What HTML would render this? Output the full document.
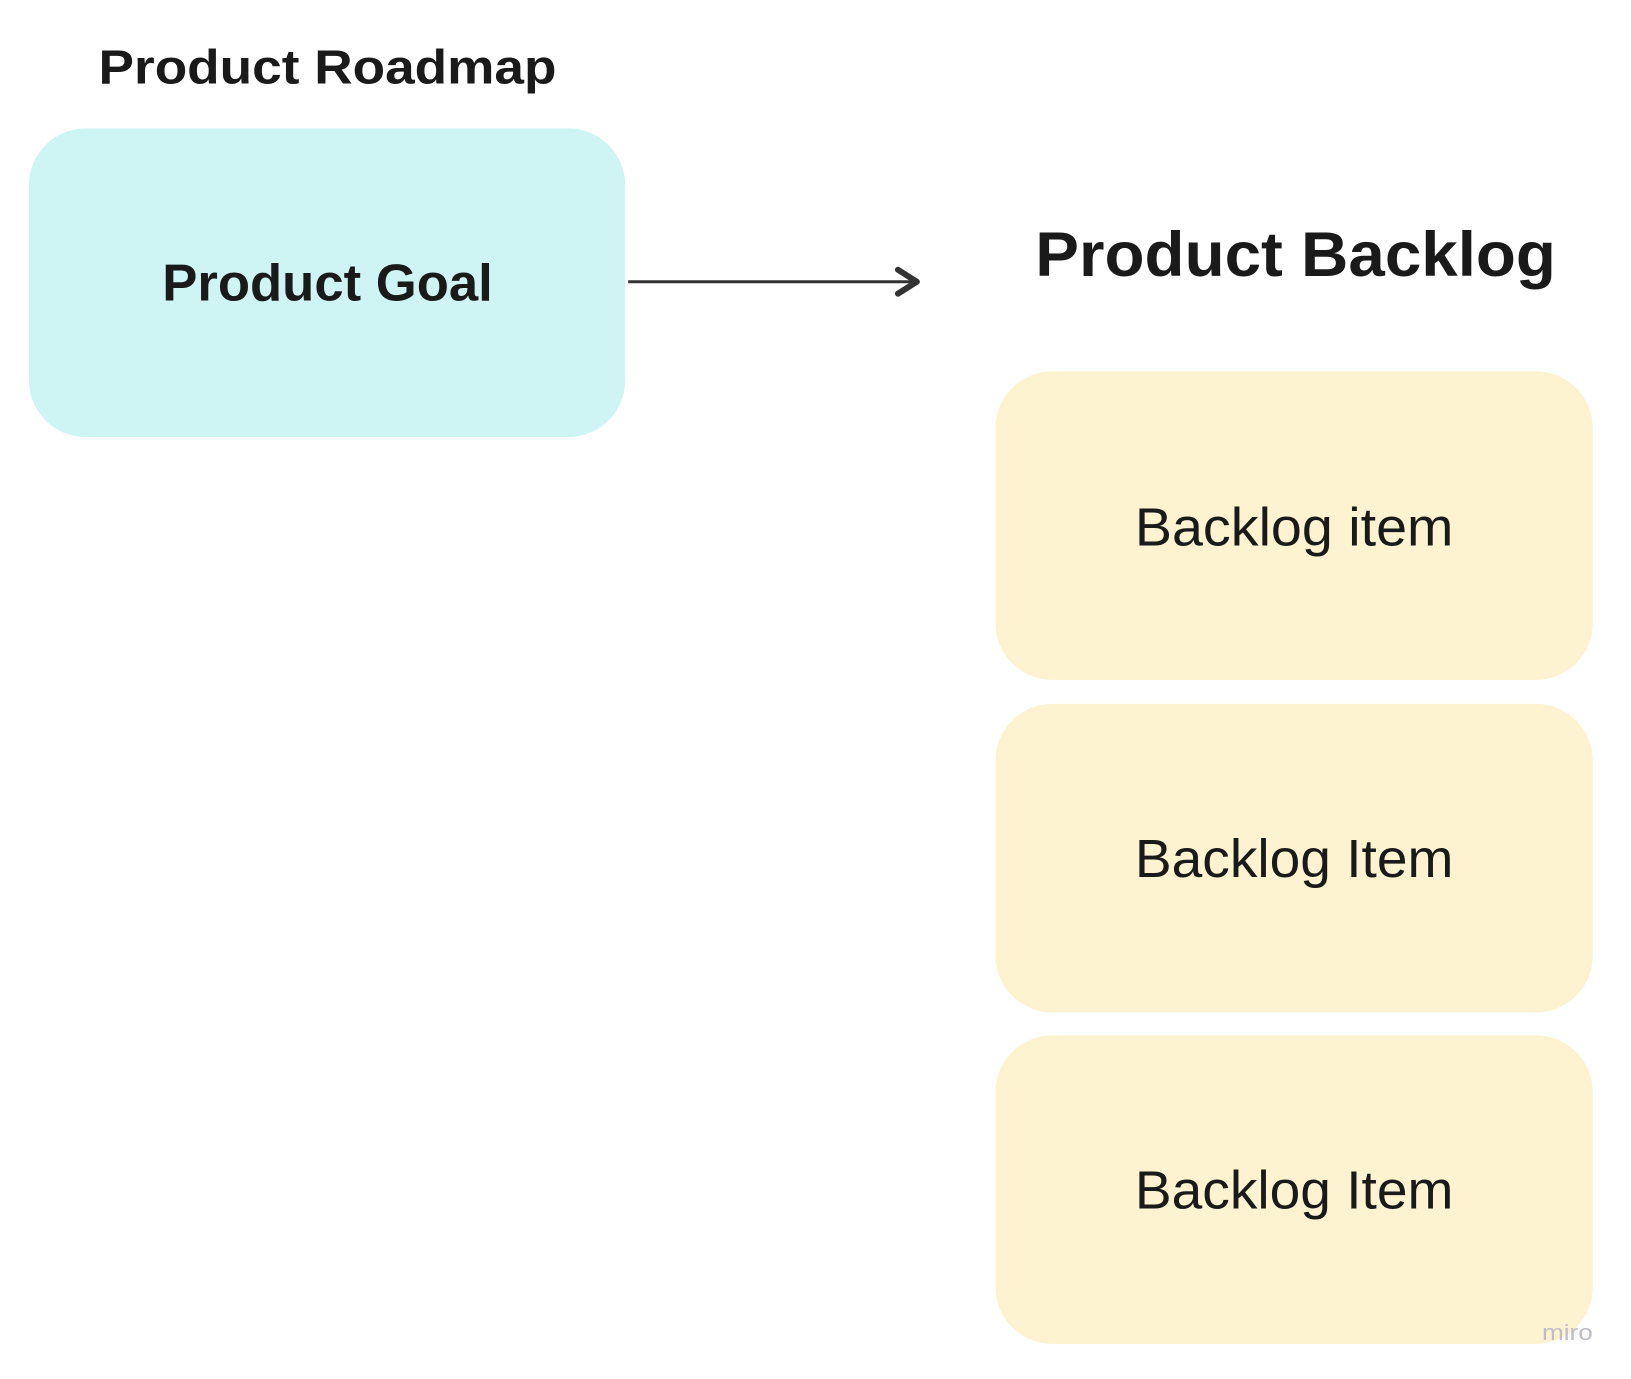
<!DOCTYPE html>
<html><head><meta charset="utf-8"><style>html,body{margin:0;padding:0;background:#fff}svg{display:block}</style></head>
<body>
<svg width="1631" height="1379" viewBox="0 0 1631 1379" xmlns="http://www.w3.org/2000/svg" font-family="Liberation Sans, sans-serif">
<rect width="1631" height="1379" fill="#fff"/>
<g transform="scale(0.9955)">
<text x="99" y="84" font-size="48" font-weight="bold" fill="#1a1a1a" textLength="460" lengthAdjust="spacingAndGlyphs">Product Roadmap</text>
<rect x="29" y="129" width="599" height="310" rx="57" fill="#cff4f4"/>
<text x="329" y="302" font-size="52" font-weight="bold" fill="#1a1a1a" text-anchor="middle" textLength="332" lengthAdjust="spacingAndGlyphs">Product Goal</text>
<line x1="631" y1="283" x2="918" y2="283" stroke="#333" stroke-width="3"/>
<path d="M902 271 L921 283 L902 295" fill="none" stroke="#333" stroke-width="6" stroke-linejoin="round" stroke-linecap="round"/>
<text x="1040" y="277" font-size="63" font-weight="bold" fill="#1a1a1a" textLength="523" lengthAdjust="spacingAndGlyphs">Product Backlog</text>
<rect x="1000" y="373" width="600" height="310" rx="57" fill="#fdf3d0"/>
<rect x="1000" y="707" width="600" height="310" rx="57" fill="#fdf3d0"/>
<rect x="1000" y="1040" width="600" height="310" rx="57" fill="#fdf3d0"/>
<text x="1300" y="548" font-size="54" fill="#1a1a1a" text-anchor="middle" textLength="320" lengthAdjust="spacingAndGlyphs">Backlog item</text>
<text x="1300" y="881" font-size="54" fill="#1a1a1a" text-anchor="middle" textLength="320" lengthAdjust="spacingAndGlyphs">Backlog Item</text>
<text x="1300" y="1214" font-size="54" fill="#1a1a1a" text-anchor="middle" textLength="320" lengthAdjust="spacingAndGlyphs">Backlog Item</text>
<text x="1549" y="1346" font-size="22" fill="#c0bcc8" textLength="51" lengthAdjust="spacingAndGlyphs">miro</text>
</g>
</svg>
</body></html>
